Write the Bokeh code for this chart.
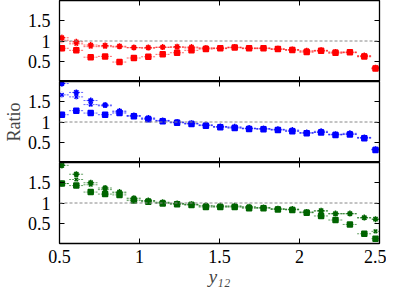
from bokeh.plotting import figure
from bokeh.models import LinearAxis, Span, Range1d, FixedTicker
from bokeh.layouts import column
from bokeh.embed import file_html
from bokeh.resources import INLINE

# ---------------- data ----------------
bin_lo = [0.47, 0.56, 0.65, 0.74, 0.83, 0.92, 1.01, 1.10, 1.19, 1.28, 1.37, 1.46,
          1.55, 1.64, 1.73, 1.82, 1.91, 2.00, 2.09, 2.18, 2.27, 2.36, 2.45]
bin_hi = [0.56, 0.65, 0.74, 0.83, 0.92, 1.01, 1.10, 1.19, 1.28, 1.37, 1.46, 1.55,
          1.64, 1.73, 1.82, 1.91, 2.00, 2.09, 2.18, 2.27, 2.36, 2.45, 2.50]

y_err = [0.08, 0.07, 0.06, 0.05, 0.05, 0.04, 0.04, 0.03, 0.03, 0.03, 0.03, 0.03,
         0.03, 0.03, 0.03, 0.03, 0.03, 0.04, 0.04, 0.04, 0.05, 0.05, 0.06]

red_a = [1.08, 0.98, 0.90, 0.89, 0.87, 0.84, 0.84, 0.85, 0.86, 0.85, 0.83, 0.83,
         0.85, 0.83, 0.83, 0.81, 0.79, 0.76, 0.77, 0.73, 0.73, 0.64, 0.34]
red_b = [1.02, 0.93, 0.86, 0.86, 0.85, 0.83, 0.82, 0.84, 0.84, 0.83, 0.82, 0.81,
         0.83, 0.81, 0.81, 0.79, 0.77, 0.73, 0.75, 0.70, 0.71, 0.61, 0.31]
red_c = [0.82, 0.77, 0.60, 0.62, 0.48, 0.58, 0.61, 0.67, 0.71, 0.77, 0.80, 0.82,
         0.84, 0.82, 0.82, 0.80, 0.78, 0.73, 0.76, 0.71, 0.72, 0.62, 0.32]

blue_a = [1.95, 1.73, 1.53, 1.42, 1.27, 1.16, 1.10, 1.04, 1.00, 0.97, 0.93, 0.89,
          0.88, 0.85, 0.84, 0.82, 0.80, 0.74, 0.77, 0.70, 0.72, 0.62, 0.33]
blue_b = [1.67, 1.62, 1.43, 1.40, 1.25, 1.15, 1.08, 1.03, 0.99, 0.96, 0.92, 0.88,
          0.86, 0.84, 0.83, 0.81, 0.78, 0.73, 0.75, 0.69, 0.70, 0.61, 0.32]
blue_c = [1.18, 1.28, 1.22, 1.18, 1.22, 1.14, 1.07, 1.02, 0.98, 0.95, 0.91, 0.87,
          0.85, 0.83, 0.82, 0.80, 0.77, 0.72, 0.74, 0.68, 0.69, 0.60, 0.31]

green_a = [1.93, 1.71, 1.50, 1.37, 1.27, 1.12, 1.06, 1.02, 0.99, 0.97, 0.94, 0.93,
           0.93, 0.91, 0.89, 0.86, 0.85, 0.78, 0.81, 0.74, 0.74, 0.64, 0.60]
green_b = [1.48, 1.58, 1.45, 1.33, 1.25, 1.10, 1.05, 1.01, 0.98, 0.96, 0.92, 0.91,
           0.91, 0.89, 0.88, 0.85, 0.84, 0.77, 0.80, 0.73, 0.73, 0.63, 0.30]
green_c = [1.48, 1.43, 1.27, 1.22, 1.20, 1.06, 1.03, 0.99, 0.97, 0.95, 0.90, 0.90,
           0.90, 0.87, 0.87, 0.84, 0.83, 0.76, 0.68, 0.58, 0.47, 0.24, 0.12]

x_ticks = [0.5, 1, 1.5, 2, 2.5]
y_ticks = [0.5, 1, 1.5]
ref_value = 1.0
x_label = "y\u2081\u2082"
y_label = "Ratio"

FONT = "Liberation Serif"
x_mid = [(a + b) / 2 for a, b in zip(bin_lo, bin_hi)]

FW, FH = 320, 81
LB, RB = 53, 13


def mirror_axis(ticks, show_labels):
    ax = LinearAxis(ticker=FixedTicker(ticks=ticks), major_tick_in=5, major_tick_out=0,
                    minor_tick_line_color=None, axis_line_color="black",
                    major_tick_line_color="black", axis_line_width=1.3)
    if show_labels:
        ax.major_label_text_font = FONT
        ax.major_label_text_font_size = "18px"
        ax.major_label_text_color = "black"
        ax.major_label_standoff = 9
    else:
        ax.major_label_text_color = None
        ax.major_label_text_font_size = "1px"
        ax.major_label_standoff = 0
    return ax


def panel(series, color, last, ylab):
    p = figure(frame_width=FW, frame_height=FH, x_range=Range1d(0.5, 2.5),
               y_range=Range1d(0, 2), output_backend="svg", toolbar_location=None,
               x_axis_location=None, y_axis_location=None,
               min_border_left=LB, min_border_right=RB,
               min_border_top=0, min_border_bottom=0)
    p.grid.visible = False
    p.outline_line_color = "black"
    p.background_fill_color = "white"
    p.border_fill_color = "white"

    left = mirror_axis(y_ticks, True)
    if ylab:
        left.axis_label = y_label
        left.axis_label_text_font = FONT
        left.axis_label_text_font_size = "18px"
        left.axis_label_text_font_style = "normal"
        left.axis_label_standoff = 1
    p.add_layout(left, "left")
    p.add_layout(mirror_axis(y_ticks, False), "right")
    p.add_layout(mirror_axis(x_ticks, False), "above")
    bottom = mirror_axis(x_ticks, last)
    if last:
        bottom.axis_label = x_label
        bottom.axis_label_text_font = FONT
        bottom.axis_label_text_font_size = "19px"
        bottom.axis_label_text_font_style = "italic"
        bottom.axis_label_standoff = 0
        bottom.major_label_standoff = 6
    p.add_layout(bottom, "below")

    p.add_layout(Span(location=ref_value, dimension="width", line_color="#888888",
                      line_dash="3 2", line_width=1))

    markers = ["asterisk", "x", "square"]
    sizes = [6, 5, 5]
    for vals, mk, sz in zip(series, markers, sizes):
        lo = [v - e for v, e in zip(vals, y_err)]
        hi = [v + e for v, e in zip(vals, y_err)]
        p.segment(x0=bin_lo, y0=vals, x1=bin_hi, y1=vals, line_color=color,
                  line_alpha=0.6, line_dash="2 1", line_width=1)
        p.segment(x0=x_mid, y0=lo, x1=x_mid, y1=hi, line_color=color,
                  line_alpha=0.5, line_dash="2 1", line_width=1)
        p.scatter(x=x_mid, y=vals, marker=mk, size=sz, line_color=color,
                  fill_color=color, line_width=1.5)
    return p


p1 = panel([red_a, red_b, red_c], "#ff0000", False, False)
p2 = panel([blue_a, blue_b, blue_c], "#0000ff", False, True)
p3 = panel([green_a, green_b, green_c], "#006400", True, False)

layout = column(p1, p2, p3, spacing=0)
open("out.html", "w").write(file_html(layout, INLINE))
